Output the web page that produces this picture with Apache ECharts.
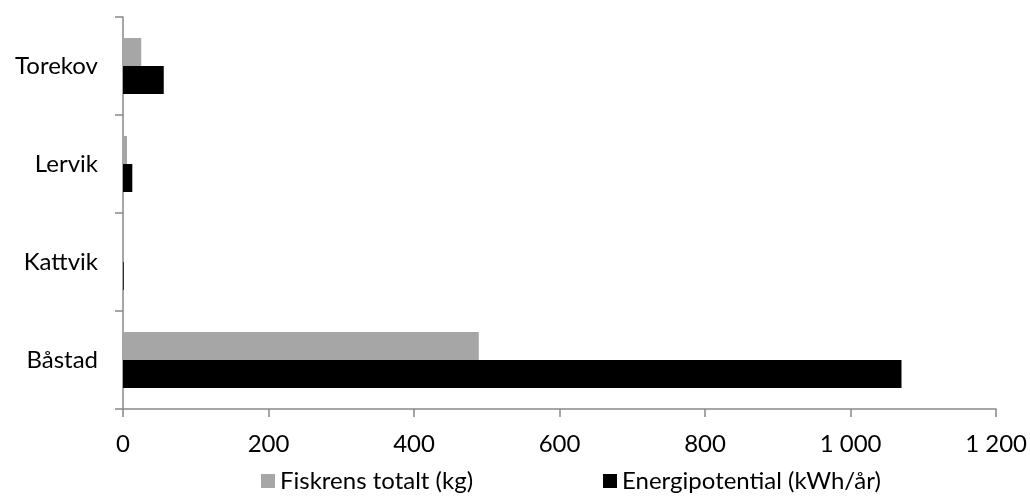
<!DOCTYPE html>
<html>
<head>
<meta charset="utf-8">
<script src="https://cdn.jsdelivr.net/npm/echarts@6/dist/echarts.min.js"></script>
<style>html,body{margin:0;padding:0;background:#fff}#c{width:1030px;height:497px}</style>
</head>
<body>
<div id="c"></div>
<script>
const categories = ['Båstad', 'Kattvik', 'Lervik', 'Torekov'];
const fiskrens = [489, 0.3, 5.5, 25];
const energi = [1070, 1, 12.8, 56];
const xTicks = [0, 200, 400, 600, 800, 1000, 1200];
const seriesNames = ['Fiskrens totalt (kg)', 'Energipotential (kWh/år)'];

const font = 'Lato, "Open Sans", sans-serif';
const axisColor = '#888888';
const chart = echarts.init(document.getElementById('c'), null, {renderer: 'canvas'});
chart.setOption({
  animation: false,
  backgroundColor: '#ffffff',
  textStyle: {fontFamily: font},
  grid: {left: 123, right: 32, top: 17, bottom: 88, containLabel: false},
  legend: [
    {data: [seriesNames[0]], left: 261, top: 469, padding: 0, icon: 'rect', itemWidth: 14, itemHeight: 14,
     textStyle: {fontFamily: font, fontSize: 24, color: '#000'}},
    {data: [seriesNames[1]], left: 603, top: 469, padding: 0, icon: 'rect', itemWidth: 14, itemHeight: 14,
     textStyle: {fontFamily: font, fontSize: 24, color: '#000'}}
  ],
  xAxis: {
    type: 'value', min: xTicks[0], max: xTicks[xTicks.length - 1], interval: 200,
    splitLine: {show: false},
    axisLine: {show: true, lineStyle: {color: axisColor, width: 1.5}},
    axisTick: {show: true, length: 8, inside: false, lineStyle: {color: axisColor, width: 1.5}},
    axisLabel: {fontFamily: font, fontSize: 24, color: '#000', margin: 23,
      formatter: v => String(v).replace(/\B(?=(\d{3})+(?!\d))/g, ' ')}
  },
  yAxis: {
    type: 'category', data: categories,
    axisLine: {show: true, lineStyle: {color: axisColor, width: 1.5}},
    axisTick: {show: true, length: 8, lineStyle: {color: axisColor, width: 1.5}},
    axisLabel: {fontFamily: font, fontSize: 24, color: '#000', margin: 25}
  },
  series: [
    {name: seriesNames[0], type: 'bar', data: fiskrens, barWidth: 28, barGap: '0%',
     itemStyle: {color: '#a6a6a6'}},
    {name: seriesNames[1], type: 'bar', data: energi, barWidth: 28, barGap: '0%',
     itemStyle: {color: '#000000'}}
  ]
});
</script>
</body>
</html>
